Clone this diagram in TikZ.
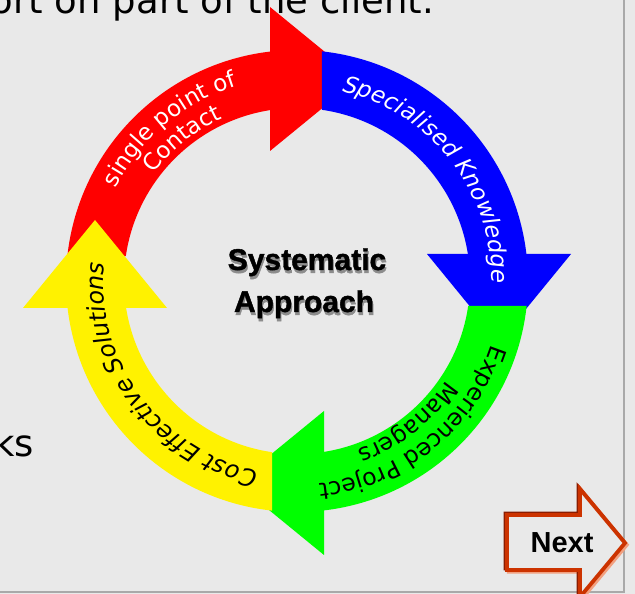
\documentclass[tikz,border=0pt]{standalone}
\usepackage{fontspec}
\setmainfont{DejaVu Sans}
\newfontfamily\btnfont{Liberation Sans}
\newfontfamily\heavyfont[BoldFeatures={FakeBold=1.3}]{Liberation Sans}
\usetikzlibrary{decorations.text}
\definecolor{bggray}{HTML}{E9E9E9}
\definecolor{framegray}{HTML}{A9A9A9}
\definecolor{mred}{HTML}{FF0000}
\definecolor{mblue}{HTML}{0000FF}
\definecolor{mgreen}{HTML}{00FF00}
\definecolor{myellow}{HTML}{FFF200}
\definecolor{btnred}{HTML}{CC3300}
\definecolor{btndark}{HTML}{8A1C00}
\definecolor{btnlight}{HTML}{F2A080}
\newcommand\ringfont{\fontsize{23}{27}\selectfont}
\newcommand\pagefont{\fontsize{37}{44}\selectfont}
\tikzset{arctext/.style 2 args = {decorate,
                                   decoration={text along path, text align=center,
                                               text={|#1|#2}}}}
\tikzset{pagetext/.style = {inner sep = 0, font = \pagefont}}
\tikzset{centertext/.style = {inner sep = 0, anchor = base,
                              font = \heavyfont\bfseries\fontsize{30}{36}\selectfont}}
\tikzset{btnshape/.style = {line width = 3.8, line join = miter}}

\begin{document}
\begin{tikzpicture}[x=1pt, y=1pt]
    \useasboundingbox (0, 0) rectangle (635, 594);
    \clip (0, 0) rectangle (635, 594);
    \fill [bggray] (0, 0) rectangle (635, 594);

    \node [pagetext, anchor=base east] (client) at (434, 580) {ort on part of the client.};
    \node [pagetext, anchor=base east] (ks) at (34, 137) {ks};

    % the four arrows of the cycle
    \begin{scope}[shift={(297, 313)}]
        \foreach \rot/\col in {0/mred, -90/mblue, -180/mgreen, 90/myellow} {
            \fill [\col, rotate=\rot] (173.8:231) arc [start angle=173.8, end angle=95, radius=231]
                -- (95:173) arc [start angle=95, end angle=171.7, radius=173] -- cycle;
            \fill [\col, rotate=\rot] (-27, 130) -- (-27, 274) -- (61, 202) -- cycle;
        }

        \path [arctext={\color{white}\ringfont}{single point of}] (200:204) arc [start angle=200, end angle=60, radius=204];
        \path [arctext={\color{white}\ringfont}{Contact}] (199:179) arc [start angle=199, end angle=59, radius=179];
        \path [arctext={\color{white}\itshape\fontsize{23}{27}\selectfont}{Specialised Knowledge}] (108:195) arc [start angle=108, end angle=-32, radius=195];
        \path [arctext={\color{black}\fontsize{23.5}{28}\selectfont}{Experienced Project}] (19:204) arc [start angle=19, end angle=-121, radius=204];
        \path [arctext={\color{black}\fontsize{23.5}{28}\selectfont}{Managers}] (18:179) arc [start angle=18, end angle=-122, radius=179];
        \path [arctext={\color{black}\itshape\fontsize{24}{28}\selectfont}{Cost Effective Solutions}] (286.5:194) arc [start angle=286.5, end angle=146.5, radius=194];
    \end{scope}

    \node [centertext, black!45] (sysshadow) at (308, 321) {Systematic};
    \node [centertext, black!45] (appshadow) at (305, 279) {Approach};
    \node [centertext] (sys) at (307, 324) {Systematic};
    \node [centertext] (app) at (304, 282) {Approach};

    \draw [framegray, line width=2.5] (624, 594) -- (624, 2) -- (0, 2);

    % next button
    \draw [btnshape, btnlight, shift={(1.8, -1.8)}] (507, 79) -- (580, 79) -- (580, 105) -- (625, 51) -- (580, -3) -- (580, 24) -- (507, 24) -- cycle;
    \draw [btnshape, btndark, shift={(-1.4, 1.4)}] (507, 79) -- (580, 79) -- (580, 105) -- (625, 51) -- (580, -3) -- (580, 24) -- (507, 24) -- cycle;
    \draw [btnshape, btnred, fill=bggray] (507, 79) -- (580, 79) -- (580, 105) -- (625, 51) -- (580, -3) -- (580, 24) -- (507, 24) -- cycle;
    \node [inner sep=0, anchor=base, font=\btnfont\bfseries\fontsize{29}{34}\selectfont] (next) at (562, 41) {Next};
\end{tikzpicture}
\end{document}
